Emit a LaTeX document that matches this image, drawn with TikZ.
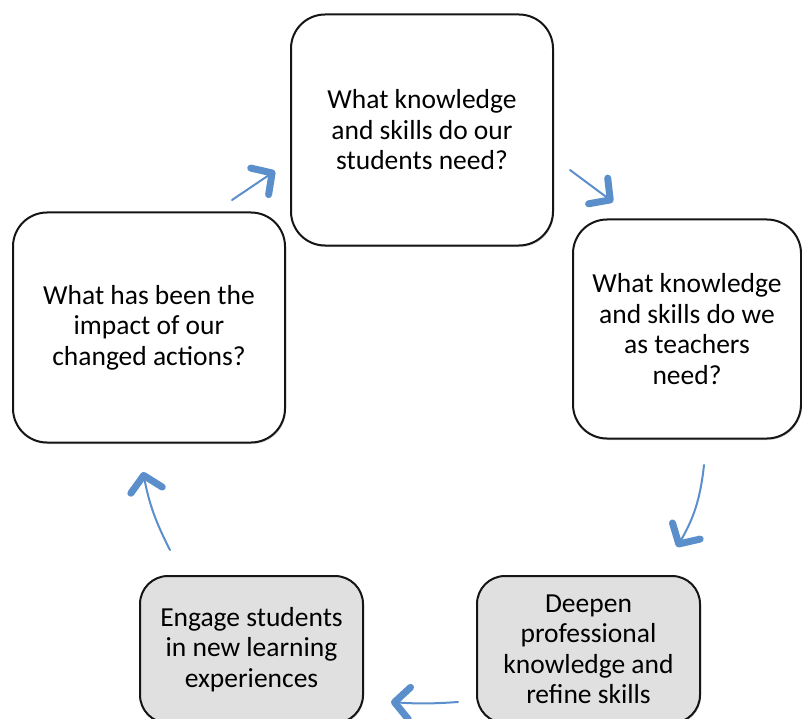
\documentclass[tikz,border=0pt]{standalone}
\usepackage{fontspec}
\setmainfont{Carlito}
\usetikzlibrary{arrows.meta,shadows}
\definecolor{arrowblue}{HTML}{5B8FCB}
\definecolor{boxgray}{HTML}{E0E0E0}
\definecolor{boxline}{HTML}{151515}
\begin{document}
\begin{tikzpicture}[x=1pt,y=-1pt,
  box/.style={draw=boxline, line width=2pt, rounded corners=34pt, fill=white,
    align=center, inner sep=0pt, font=\fontsize{27.5}{30.5}\selectfont,
    drop shadow={opacity=0.3, shadow xshift=1pt, shadow yshift=-1.5pt}},
  graybox/.style={box, fill=boxgray, rounded corners=28pt},
  flow/.style={draw=arrowblue, line width=2pt, line cap=round,
    -{Straight Barb[length=15pt,width=32pt,line width=7pt,round]}}]
\useasboundingbox (0,0) rectangle (802,719);
\node[box, minimum width=262pt, minimum height=231pt] (students) at (422,130)
  {What knowledge\\and skills do our\\students need?};
\node[box, minimum width=228pt, minimum height=219pt] (teachers) at (687,329)
  {What knowledge\\and skills do we\\as teachers\\need?};
\node[box, minimum width=272pt, minimum height=230pt] (impact) at (149,327.5)
  {What has been the\\impact of our\\changed actions?};
\node[graybox, minimum width=223pt, minimum height=147pt] (deepen) at (588.5,649.5)
  {Deepen\\professional\\knowledge and\\refine skills};
\node[graybox, minimum width=223pt, minimum height=147pt] (engage) at (251.5,649.5)
  {Engage students\\in new learning\\experiences};
\coordinate (a1s) at (232,200); \coordinate (a1e) at (275,171);
\coordinate (a2s) at (570,170); \coordinate (a2e) at (613,202);
\coordinate (a3s) at (704,465); \coordinate (a3e) at (677,547);
\coordinate (a4s) at (458,702); \coordinate (a4e) at (391,702);
\coordinate (a5s) at (170,550); \coordinate (a5e) at (143,472);
\draw[flow] (a1s) -- (a1e);
\draw[flow] (a2s) -- (a2e);
\draw[flow] (a3s) to[bend left=12] (a3e);
\draw[flow] (a4s) to[bend left=4] (a4e);
\draw[flow] (a5s) to[bend left=8] (a5e);
\end{tikzpicture}
\end{document}
